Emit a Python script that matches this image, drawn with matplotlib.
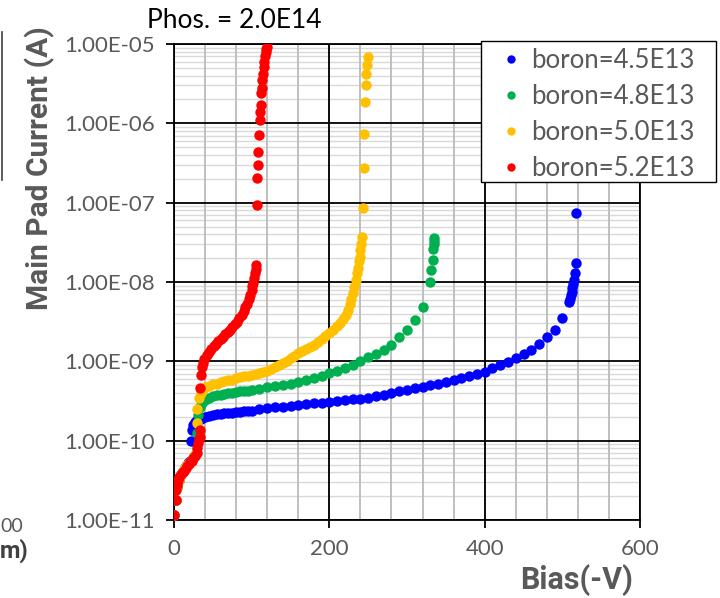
import matplotlib
matplotlib.use("Agg")
import matplotlib.pyplot as plt
from matplotlib.ticker import FixedLocator, FuncFormatter, NullFormatter
from matplotlib.lines import Line2D
from matplotlib.patches import Rectangle

plt.rcParams['font.family'] = ['Lato', 'DejaVu Sans']

# ---- data (Bias in -V, current in A) ----
bias_45 = [0, 2, 4, 6, 8, 10, 12, 14, 16, 18, 20, 22, 23, 25, 27, 30, 35, 40, 45, 50,
           55, 60, 65, 70, 75, 80, 85, 90, 95, 100, 110, 120, 130, 140, 150, 160, 170,
           180, 190, 200, 210, 220, 230, 240, 250, 260, 270, 280, 290, 300, 310, 320,
           330, 340, 350, 360, 370, 380, 390, 400, 410, 420, 430, 440, 450, 460, 470,
           480, 490, 500, 509, 510, 511, 512, 513, 514, 515, 516, 517, 518]
curr_45 = [1.15e-11, 1.78e-11, 2.63e-11, 3.16e-11, 3.55e-11, 3.9e-11, 4.2e-11, 4.5e-11,
           4.8e-11, 5.2e-11, 5.5e-11, 1.0e-10, 1.35e-10, 1.58e-10, 1.7e-10, 1.82e-10,
           1.9e-10, 2.0e-10, 2.04e-10, 2.09e-10, 2.14e-10, 2.19e-10, 2.21e-10, 2.24e-10,
           2.26e-10, 2.29e-10, 2.32e-10, 2.34e-10, 2.37e-10, 2.4e-10, 2.51e-10, 2.57e-10,
           2.63e-10, 2.69e-10, 2.75e-10, 2.82e-10, 2.88e-10, 2.95e-10, 3.02e-10, 3.09e-10,
           3.16e-10, 3.24e-10, 3.31e-10, 3.39e-10, 3.47e-10, 3.63e-10, 3.8e-10, 3.98e-10,
           4.17e-10, 4.37e-10, 4.57e-10, 4.79e-10, 5.01e-10, 5.25e-10, 5.5e-10, 5.75e-10,
           6.17e-10, 6.46e-10, 6.92e-10, 7.41e-10, 8.13e-10, 8.91e-10, 9.77e-10, 1.10e-9,
           1.23e-9, 1.38e-9, 1.66e-9, 2.0e-9, 2.45e-9, 3.47e-9, 5.62e-9, 6.17e-9, 6.76e-9,
           7.59e-9, 8.51e-9, 9.55e-9, 1.07e-8, 1.29e-8, 1.74e-8, 7.41e-8]

bias_48 = [0, 2, 4, 6, 8, 10, 12, 14, 16, 18, 20, 22, 24, 26, 28, 29, 31, 33, 36, 40,
           45, 50, 55, 60, 65, 70, 75, 80, 85, 90, 95, 100, 110, 120, 130, 140, 150,
           160, 170, 180, 190, 200, 210, 220, 230, 240, 250, 260, 270, 280, 290, 300,
           310, 320, 329, 331.5, 333, 334, 334.5, 335, 335]
curr_48 = [1.15e-11, 1.78e-11, 2.63e-11, 3.16e-11, 3.55e-11, 3.9e-11, 4.2e-11, 4.5e-11,
           4.8e-11, 5.1e-11, 5.4e-11, 5.6e-11, 6.0e-11, 6.4e-11, 7.0e-11, 1.26e-10,
           2.09e-10, 2.63e-10, 2.95e-10, 3.24e-10, 3.47e-10, 3.63e-10, 3.72e-10, 3.8e-10,
           3.89e-10, 3.98e-10, 4.03e-10, 4.07e-10, 4.17e-10, 4.22e-10, 4.27e-10, 4.37e-10,
           4.47e-10, 4.68e-10, 4.9e-10, 5.01e-10, 5.25e-10, 5.5e-10, 5.89e-10, 6.17e-10,
           6.61e-10, 7.08e-10, 7.59e-10, 8.13e-10, 8.91e-10, 1.0e-9, 1.12e-9, 1.23e-9,
           1.38e-9, 1.62e-9, 2.0e-9, 2.45e-9, 3.31e-9, 4.9e-9, 1.0e-8, 1.41e-8, 1.91e-8,
           2.57e-8, 3.02e-8, 3.31e-8, 3.55e-8]

bias_50 = [0, 2, 4, 6, 8, 10, 12, 14, 16, 18, 20, 22, 24, 26, 28, 29, 30, 32, 35, 37,
           40, 45, 50, 55, 60, 65, 70, 75, 80, 85, 90, 95, 100, 105, 110, 115, 120, 125,
           130, 135, 140, 145, 150, 155, 160, 165, 170, 175, 180, 185, 190, 195, 200,
           205, 210, 214, 218, 221, 224, 226, 228, 230, 232, 234, 236, 237, 238, 239,
           240, 241, 242.5, 243.5, 244.4, 244.8, 246, 247, 247.8, 249, 250]
curr_50 = [1.15e-11, 1.78e-11, 2.63e-11, 3.16e-11, 3.55e-11, 3.9e-11, 4.2e-11, 4.5e-11,
           4.8e-11, 5.1e-11, 5.4e-11, 5.6e-11, 6.0e-11, 6.4e-11, 7.0e-11, 1.66e-10,
           2.51e-10, 3.47e-10, 3.98e-10, 4.37e-10, 4.68e-10, 4.9e-10, 5.13e-10, 5.25e-10,
           5.5e-10, 5.62e-10, 5.75e-10, 5.89e-10, 6.17e-10, 6.31e-10, 6.46e-10, 6.61e-10,
           6.76e-10, 6.92e-10, 7.08e-10, 7.41e-10, 7.59e-10, 7.94e-10, 8.51e-10, 9.12e-10,
           9.55e-10, 1.02e-9, 1.10e-9, 1.17e-9, 1.26e-9, 1.35e-9, 1.41e-9, 1.51e-9,
           1.62e-9, 1.74e-9, 1.91e-9, 2.09e-9, 2.29e-9, 2.51e-9, 2.75e-9, 3.02e-9,
           3.39e-9, 3.8e-9, 4.47e-9, 5.25e-9, 6.03e-9, 7.24e-9, 8.71e-9, 1.05e-8, 1.29e-8,
           1.51e-8, 1.82e-8, 2.09e-8, 2.51e-8, 3.02e-8, 3.72e-8, 8.51e-8, 2.75e-7, 7.41e-7,
           1.86e-6, 3.02e-6, 4.17e-6, 5.5e-6, 6.76e-6]

bias_52 = [0, 2, 3, 4, 5, 7, 9, 11, 13, 15, 17, 19, 21, 23, 25, 27, 29, 30, 31, 32, 33,
           33.5, 34, 35, 36, 37, 39, 42, 45, 48, 51, 54, 57, 60, 63, 66, 69, 72, 75, 78,
           81, 84, 87, 90, 92, 94, 96, 98, 100, 101, 102, 103, 104, 105, 106, 106.5,
           107.5, 107.7, 108.3, 108.9, 110.5, 111, 111.8, 112.2, 112.8, 113.5, 114.5,
           115.5, 116.5, 117.5, 118.3, 119, 120]
curr_52 = [1.15e-11, 1.78e-11, 2.4e-11, 2.8e-11, 3.16e-11, 3.5e-11, 3.8e-11, 4.0e-11,
           4.2e-11, 4.5e-11, 4.8e-11, 5.1e-11, 5.4e-11, 5.6e-11, 6.0e-11, 6.5e-11, 7.0e-11,
           8.0e-11, 9.3e-11, 1.05e-10, 1.12e-10, 1.35e-10, 4.57e-10, 6.76e-10, 8.5e-10,
           9.55e-10, 1.07e-9, 1.2e-9, 1.32e-9, 1.45e-9, 1.55e-9, 1.66e-9, 1.78e-9, 1.91e-9,
           2.04e-9, 2.19e-9, 2.34e-9, 2.51e-9, 2.69e-9, 2.95e-9, 3.16e-9, 3.47e-9, 3.89e-9,
           4.37e-9, 4.79e-9, 5.25e-9, 6.03e-9, 6.92e-9, 7.94e-9, 8.91e-9, 9.77e-9, 1.12e-8,
           1.29e-8, 1.45e-8, 1.62e-8, 9.33e-8, 2.04e-7, 2.95e-7, 4.37e-7, 7.08e-7, 1.1e-6,
           1.38e-6, 1.7e-6, 2.4e-6, 2.8e-6, 3.5e-6, 4.2e-6, 5.1e-6, 6.0e-6, 7.0e-6, 7.9e-6,
           8.7e-6, 9.3e-6]

labels = ['boron=4.5E13', 'boron=4.8E13', 'boron=5.0E13', 'boron=5.2E13']
colors = ['#0000FF', '#00B050', '#FFC000', '#FF0000']
x_ticks = [0, 200, 400, 600]
x_minor = list(range(0, 601, 40))
y_ticks = [1e-11, 1e-10, 1e-9, 1e-8, 1e-7, 1e-6, 1e-5]

gray = '#595959'
bold_font = ['Roboto', 'DejaVu Sans']

fig = plt.figure(figsize=(7.2, 5.98), dpi=100)
ax = fig.add_axes([174/720, 1-520/598, 466/720, 476/598])

series = [(bias_45, curr_45), (bias_48, curr_48), (bias_50, curr_50), (bias_52, curr_52)]
for (v, i), c, lab in zip(series, colors, labels):
    ax.plot(v, i, 'o', color=c, ms=7.5, mew=0, label=lab, zorder=3)

ax.set_yscale('log')
ax.set_xlim(0, 600)
ax.set_ylim(1e-11, 1e-5)
ax.xaxis.set_major_locator(FixedLocator(x_ticks))
ax.xaxis.set_minor_locator(FixedLocator([]))
ax.yaxis.set_major_locator(FixedLocator(y_ticks))
ax.yaxis.set_minor_locator(FixedLocator([]))
ax.yaxis.set_minor_formatter(NullFormatter())
ax.yaxis.set_major_formatter(FuncFormatter(lambda y, p: '%.2E' % y))

# gridlines drawn by hand so the black ones sit on top of the grey ones
for dec in y_ticks[:-1]:
    for k in range(2, 10):
        ax.axhline(dec * k, color='#d9d9d9', lw=1.0, zorder=0.5)
for xv in x_minor:
    ax.axvline(xv, color='#bfbfbf', lw=1.4, zorder=0.6)
for yv in y_ticks:
    ax.axhline(yv, color='black', lw=1.3, zorder=0.7)
for xv in x_ticks:
    ax.axvline(xv, color='black', lw=1.3, zorder=0.8)

for s in ax.spines.values():
    s.set_color('black')
    s.set_linewidth(1.3)
ax.tick_params(which='major', length=6, width=1.3, color='black', labelcolor=gray,
               labelsize=16, pad=8)

fig.text(147/720, 1-20/598, 'Phos. = 2.0E14', fontsize=19, color='black',
         va='center', ha='left')
fig.text(40/720, 1-168/598, 'Main Pad Current (A)', rotation=90, fontsize=21.5,
         fontweight='bold', family=bold_font, color=gray, ha='center', va='center')
fig.text(633/720, 1-580/598, 'Bias(-V)', fontsize=22, fontweight='bold',
         family=bold_font, color=gray, ha='right', va='center')

# leftovers of the neighbouring chart at the left edge
fig.text(0, 1-527/598, '00', fontsize=14, color=gray, ha='left', va='center')
fig.text(0, 1-551/598, 'm)', fontsize=17, fontweight='bold', family=bold_font,
         color='#404040', ha='left', va='center')
fig.add_artist(Line2D([2/720, 2/720], [1-32/598, 1-180/598], color='#404040', lw=1.2))

# legend box (frame drawn separately: the original has a wider side margin)
fig.add_artist(Rectangle((481/720, 1-182/598), 235/720, 141/598, transform=fig.transFigure,
                         facecolor='white', edgecolor='black', lw=1.0, zorder=4))
leg = fig.legend(loc='upper left', bbox_to_anchor=(498/720, 1-48/598), fontsize=18.5,
                 frameon=False, markerscale=0.8, handletextpad=0.3,
                 labelspacing=0.43, borderpad=0, handlelength=1.0, borderaxespad=0)
leg.set_zorder(5)
for t in leg.get_texts():
    t.set_color(gray)

fig.savefig('out.png', dpi=100)
